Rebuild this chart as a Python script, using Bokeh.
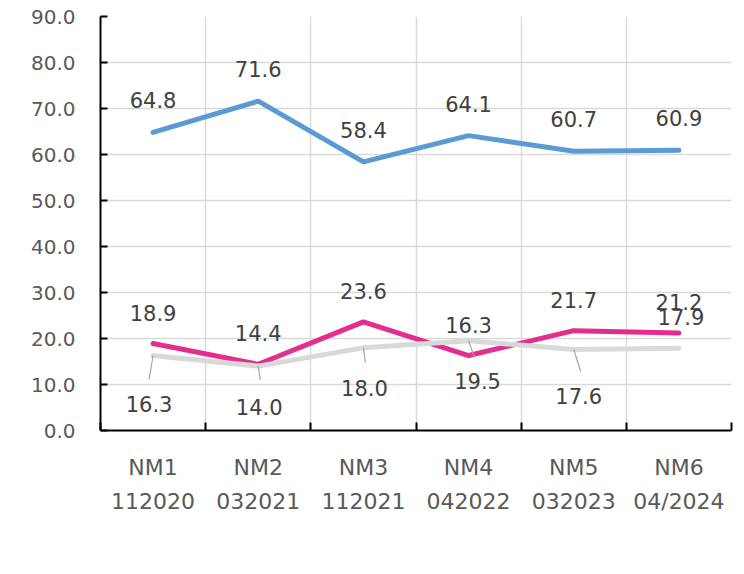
from bokeh.plotting import figure
from bokeh.models import (Range1d, FactorRange, LinearAxis, CategoricalAxis, FixedTicker,
                          SingleIntervalTicker, NumeralTickFormatter, Legend, LegendItem)
from bokeh.embed import file_html
from bokeh.resources import INLINE
from bokeh.core.properties import value

# ---- data ----
codes = ["NM1", "NM2", "NM3", "NM4", "NM5", "NM6"]
dates = ["112020", "032021", "112021", "042022", "032023", "04/2024"]
si = [64.8, 71.6, 58.4, 64.1, 60.7, 60.9]
no = [18.9, 14.4, 23.6, 16.3, 21.7, 21.2]
nsnc = [16.3, 14.0, 18.0, 19.5, 17.6, 17.9]
series_names = ["Sí", "No", "NS / NC"]
y_min, y_max, y_step = 0, 90, 10

# ---- style ----
FONT = "DejaVu Sans"
colors = ["#5B9BD5", "#E42D8D", "#D9D9D9"]
FW, FH = 631, 414
ML, MR, MT = 100, 5, 16
n = len(codes)
px_x = FW / n
px_y = FH / (y_max - y_min)

p = figure(frame_width=FW, frame_height=FH, output_backend="svg", toolbar_location=None,
           x_range=FactorRange(factors=codes), y_range=Range1d(y_min, y_max),
           min_border_left=ML, min_border_right=MR, min_border_top=MT, min_border_bottom=0)
p.outline_line_color = None
p.background_fill_color = "white"
p.border_fill_color = "white"

# y axis
ya = p.yaxis[0]
ya.ticker = SingleIntervalTicker(interval=y_step)
ya.formatter = NumeralTickFormatter(format="0.0")
ya.axis_line_color = "black"
ya.axis_line_width = 2
ya.major_tick_line_color = "black"
ya.major_tick_line_width = 2
ya.major_tick_in = 7
ya.major_tick_out = 0
ya.minor_tick_line_color = None
ya.major_label_text_font = FONT
ya.major_label_text_font_size = "20px"
ya.major_label_text_color = "#595959"
ya.major_label_standoff = 21

# boundary positions between categories (synthetic coordinates)
bticker = FixedTicker(ticks=list(range(n + 1)))

# code label axis (default)
ca = p.xaxis[0]
ca.axis_line_color = None
ca.major_tick_line_color = None
ca.minor_tick_line_color = None
ca.major_label_text_font = FONT
ca.major_label_text_font_size = "22px"
ca.major_label_text_color = "#595959"
ca.major_label_standoff = 18

# date label axis
p.extra_x_ranges = {"dates": FactorRange(factors=dates)}
da = CategoricalAxis(x_range_name="dates")
da.axis_line_color = None
da.major_tick_line_color = None
da.minor_tick_line_color = None
da.major_label_text_font = FONT
da.major_label_text_font_size = "22px"
da.major_label_text_color = "#595959"
da.major_label_standoff = 0
p.add_layout(da, "below")

# tick axis at category boundaries, closest to the frame
ta = LinearAxis(ticker=bticker)
ta.axis_line_color = "black"
ta.axis_line_width = 2
ta.major_tick_line_color = "black"
ta.major_tick_line_width = 2
ta.major_tick_in = 8
ta.major_tick_out = 0
ta.minor_tick_line_color = None
ta.major_label_text_font_size = "1px"
ta.major_label_text_alpha = 0
ta.major_label_standoff = 0
p.add_layout(ta, "below")
p.below = [ta, ca, da]

p.xgrid.ticker = bticker
p.xgrid.grid_line_color = "#D9D9D9"
p.xgrid.grid_line_width = 1.5
p.ygrid.grid_line_color = "#D9D9D9"
p.ygrid.grid_line_width = 1.5

# lines
renderers = []
for vals, c in zip([si, no, nsnc], colors):
    r = p.line(codes, vals, line_color=c, line_width=5, line_cap="round", line_join="round")
    renderers.append(r)

# leader lines for NS / NC labels (pixel offsets from the point)
xs = [i + 0.5 for i in range(n)]
leader_px = [(-4, 24), (2, 14), (2, 15), (6, 17), (7, 22)]
lx0, ly0, lx1, ly1 = [], [], [], []
for i, (dx, dy) in enumerate(leader_px):
    lx0.append(xs[i]); ly0.append(nsnc[i])
    lx1.append(xs[i] + dx / px_x); ly1.append(nsnc[i] - dy / px_y)
p.segment(lx0, ly0, lx1, ly1, line_color="#A6A6A6", line_width=1.2)

# data labels
label_offsets = [
    [(0, -32)] * n,
    [(0, -31)] * n,
    [(-4, 48), (1, 41), (1, 40), (9, 40), (5, 46), (2, -31)],
]
for vals, offs in zip([si, no, nsnc], label_offsets):
    p.text(codes, vals, text=[f"{v:.1f}" for v in vals],
           x_offset=[o[0] for o in offs], y_offset=[o[1] for o in offs],
           text_align="center", text_baseline="middle",
           text_font=value(FONT), text_font_size="21px", text_color="#404040")

legend = Legend(items=[LegendItem(label=nm, renderers=[r]) for nm, r in zip(series_names, renderers)],
                orientation="horizontal", location=(113, 22),
                glyph_width=54, glyph_height=20, label_standoff=5, spacing=22,
                label_text_font=FONT, label_text_font_size="21px", label_text_color="#595959",
                border_line_color=None, background_fill_alpha=0, padding=0, margin=0)
p.add_layout(legend, "below")

open("out.html", "w").write(file_html(p, INLINE))
